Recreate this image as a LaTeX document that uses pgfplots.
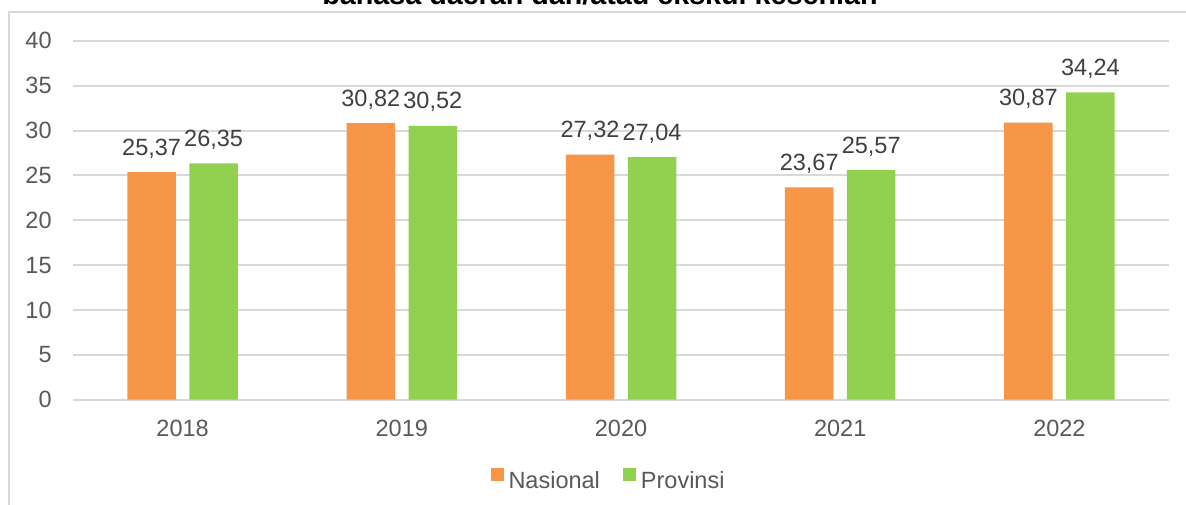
\documentclass[border=0pt]{standalone}
\usepackage{fontspec}
\setmainfont{Liberation Sans}
\usepackage{pgfplots}
\pgfplotsset{compat=1.18}
\definecolor{nasional}{HTML}{F79646}
\definecolor{provinsi}{HTML}{92D050}
\definecolor{gridgray}{HTML}{D9D9D9}
\definecolor{ticktext}{HTML}{595959}
\definecolor{labeltext}{HTML}{404040}

\begin{document}
\begin{tikzpicture}
% 1 px of the reference = 0.5pt, origin at the top left
\useasboundingbox (0,0) rectangle (593pt,-252pt);
\clip (0,0) rectangle (593pt,-252pt);
\draw[gridgray, line width=1pt] (4.25pt,-260pt) -- (4.25pt,-5.75pt) -- (600pt,-5.75pt);
\node[anchor=base, font=\bfseries\fontsize{14.35}{17}\selectfont] at (300pt,-2.25pt)
  {bahasa daerah dan/atau ekskul kesenian};
\begin{axis}[
    at={(36.5pt,-199.8pt)}, anchor=south west,
    scale only axis, width=548pt, height=179.4pt,
    ybar, bar width=24.25pt,
    xmin=-0.5, xmax=4.5, ymin=0, ymax=40,
    xtick={0,1,2,3,4},
    xticklabels={2018,2019,2020,2021,2022},
    ytick={0,5,...,40},
    axis line style={draw=none},
    major tick length=0pt,
    ymajorgrids, grid style={gridgray, line width=1pt},
    /pgf/number format/assume math mode=true,
    tick label style={font=\fontsize{11.75}{14}\selectfont, text=ticktext, inner sep=0pt},
    yticklabel style={anchor=east, xshift=-10.5pt},
    xticklabel style={anchor=base, yshift=-18.55pt},
    nodes near coords={\pgfmathprintnumber[fixed, fixed zerofill, precision=2, use comma]{\pgfplotspointmeta}},
    every node near coord/.append style={anchor=base, inner sep=0pt, yshift=8.5pt,
        font=\fontsize{11.75}{14}\selectfont, text=labeltext},
    legend columns=2,
    legend image code/.code={\fill[#1, draw=none] (0pt,0pt) rectangle (6.5pt,6.5pt);},
    legend style={at={(0.4877,-0.2228)}, anchor=center, draw=none, fill=none,
        inner sep=0pt, font=\fontsize{11.75}{14}\selectfont, text=ticktext,
        nodes={inner sep=0pt},
        /tikz/every odd column/.style={column sep=2.5pt},
        /tikz/every even column/.style={column sep=11.5pt}},
]
\addplot[fill=nasional, draw=none, bar shift=-15.5pt] coordinates {
    (0,25.37) (1,30.82) (2,27.32) (3,23.67) (4,30.87)};
\addlegendentry{Nasional}
\addplot[fill=provinsi, draw=none, bar shift=15.5pt] coordinates {
    (0,26.35) (1,30.52) (2,27.04) (3,25.57) (4,34.24)};
\addlegendentry{Provinsi}
\end{axis}
\end{tikzpicture}
\end{document}
